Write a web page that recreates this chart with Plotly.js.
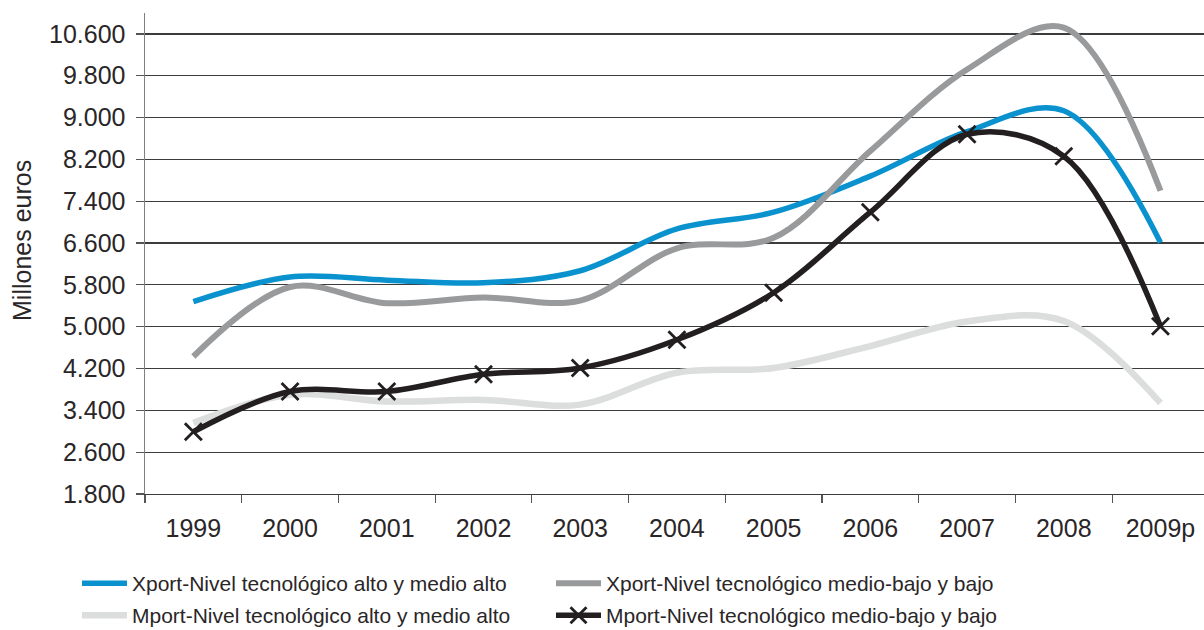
<!DOCTYPE html>
<html>
<head>
<meta charset="utf-8">
<script src="https://cdn.plot.ly/plotly-3.0.1.min.js"></script>
<style>
  html, body { margin: 0; padding: 0; background: #ffffff; }
  #chart { width: 1204px; height: 630px; }
</style>
</head>
<body>
<div id="chart"></div>
<script>
// Categories (years)
const years = ['1999', '2000', '2001', '2002', '2003', '2004', '2005', '2006', '2007', '2008', '2009p'];

// Series values (millones de euros)
const xportAlto  = [5480, 5950, 5890, 5840, 6070, 6870, 7190, 7880, 8730, 9130, 6610];
const xportBajo  = [4430, 5760, 5450, 5560, 5500, 6500, 6700, 8360, 9920, 10720, 7600];
const mportAlto  = [3160, 3700, 3570, 3600, 3510, 4120, 4210, 4630, 5100, 5110, 3540];
const mportBajo  = [2990, 3760, 3760, 4090, 4210, 4750, 5650, 7190, 8680, 8260, 5010];

// Series names
const names = [
  'Xport-Nivel tecnológico alto y medio alto',
  'Xport-Nivel tecnológico medio-bajo y bajo',
  'Mport-Nivel tecnológico alto y medio alto',
  'Mport-Nivel tecnológico medio-bajo y bajo'
];

// Y axis tick values
const yTicks = [1800, 2600, 3400, 4200, 5000, 5800, 6600, 7400, 8200, 9000, 9800, 10600];

const FONT = 'Liberation Sans, Arial, Helvetica, sans-serif';
const TEXT = '#2a2627';

const traces = [
  {
    x: years, y: xportAlto, name: names[0], type: 'scatter', mode: 'lines', legend: 'legend',
    line: { color: '#0a92cf', width: 5.5, shape: 'spline', smoothing: 1 }
  },
  {
    x: years, y: xportBajo, name: names[1], type: 'scatter', mode: 'lines', legend: 'legend',
    line: { color: '#999a9c', width: 6, shape: 'spline', smoothing: 1 }
  },
  {
    x: years, y: mportAlto, name: names[2], type: 'scatter', mode: 'lines', legend: 'legend2',
    line: { color: '#dcdddd', width: 6.5, shape: 'spline', smoothing: 1 }
  },
  {
    x: years, y: mportBajo, name: names[3], type: 'scatter', mode: 'lines+markers', legend: 'legend2',
    line: { color: '#231f20', width: 5.5, shape: 'spline', smoothing: 1 },
    marker: { symbol: 'x-thin-open', size: 17, color: '#231f20', line: { color: '#231f20', width: 2.8 } }
  }
];

const legendBase = {
  orientation: 'h',
  xref: 'container',
  yref: 'container',
  x: 77 / 1204,
  xanchor: 'left',
  yanchor: 'top',
  entrywidth: 414,
  entrywidthmode: 'pixels',
  itemwidth: 45,
  font: { family: FONT, size: 21, color: TEXT },
  bgcolor: 'rgba(0,0,0,0)',
  traceorder: 'normal'
};

const layout = {
  width: 1204,
  height: 630,
  margin: { l: 145, r: 0, t: 13, b: 136, pad: 0 },
  paper_bgcolor: '#ffffff',
  plot_bgcolor: '#ffffff',
  separators: ',.',
  font: { family: FONT, color: TEXT, size: 21 },
  showlegend: true,
  xaxis: {
    type: 'category',
    range: [-0.5, 10.45],
    fixedrange: true,
    showgrid: false,
    zeroline: false,
    showline: true,
    linecolor: '#3c3c3c',
    linewidth: 1.2,
    ticks: 'outside',
    tickson: 'boundaries',
    ticklen: 8,
    tickwidth: 1.2,
    tickcolor: '#555555',
    ticklabelstandoff: 12,
    tickfont: { family: FONT, size: 25, color: TEXT }
  },
  yaxis: {
    range: [1800, 11000],
    fixedrange: true,
    tickmode: 'array',
    tickvals: yTicks,
    tickformat: ',d',
    showgrid: true,
    gridcolor: '#3c3c3c',
    gridwidth: 1.2,
    zeroline: false,
    showline: true,
    linecolor: '#808080',
    linewidth: 1.5,
    ticks: 'outside',
    ticklen: 8,
    tickwidth: 1.2,
    tickcolor: '#555555',
    ticklabelstandoff: 5,
    tickfont: { family: FONT, size: 25, color: TEXT }
  },
  legend: Object.assign({}, legendBase, { y: 1 - 563 / 630 }),
  legend2: Object.assign({}, legendBase, { y: 1 - 595 / 630 }),
  annotations: [
    {
      text: 'Millones euros',
      xref: 'paper', yref: 'paper',
      x: (22 - 145) / 1059, y: (494 - 241) / 481,
      xanchor: 'center', yanchor: 'middle',
      textangle: -90,
      showarrow: false,
      font: { family: FONT, size: 25, color: TEXT }
    }
  ]
};

Plotly.newPlot('chart', traces, layout, { displayModeBar: false, staticPlot: true });
</script>
</body>
</html>
